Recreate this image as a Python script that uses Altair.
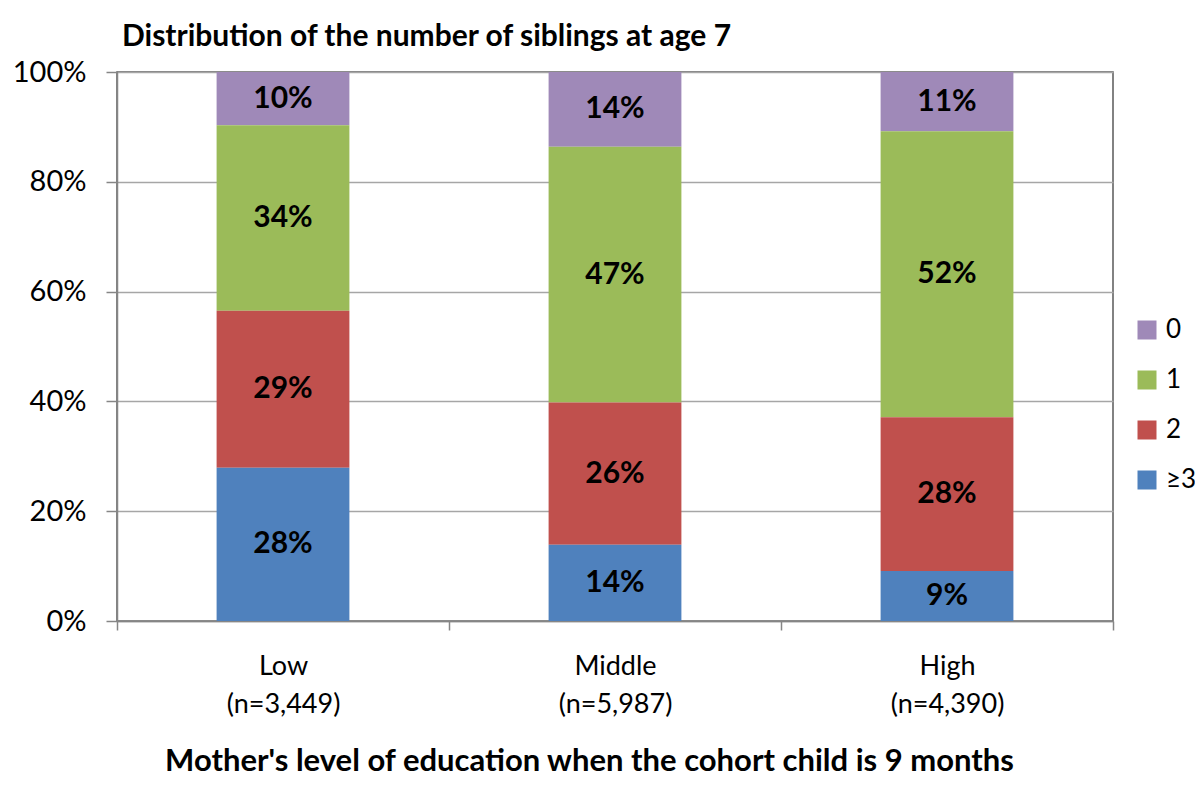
import altair as alt
import pandas as pd

categories = ["Low", "Middle", "High"]
sample_sizes = ["(n=3,449)", "(n=5,987)", "(n=4,390)"]
sibling_groups = ["0", "1", "2", "≥3"]
share_0 = [9.7, 13.6, 10.8]
share_1 = [33.8, 46.6, 52.1]
share_2 = [28.6, 25.9, 28.0]
share_3plus = [27.9, 13.9, 9.1]
colors = ["#9F89B8", "#9BBB59", "#C0504D", "#4F81BD"]
y_ticks = [0, 20, 40, 60, 80, 100]

series = [share_0, share_1, share_2, share_3plus]
rows = []
for gi, (g, vals) in enumerate(zip(sibling_groups, series)):
    for ci, c in enumerate(categories):
        rows.append({"cat": c + "|" + sample_sizes[ci], "group": g,
                     "value": vals[ci], "order": gi})
df = pd.DataFrame(rows)
cat_order = [c + "|" + n for c, n in zip(categories, sample_sizes)]

FONT = "Lato"

base = alt.Chart(df).transform_stack(
    stack="value", groupby=["cat"], as_=["y0", "y1"],
    sort=[alt.SortField("order", order="descending")]
).transform_calculate(
    mid="(datum.y0 + datum.y1) / 2",
    label="format(datum.value, '.0f') + '%'"
)

x_scale = alt.Scale(paddingInner=0, paddingOuter=0)

x_enc = alt.X(
    "cat:N", sort=cat_order, scale=x_scale,
    axis=alt.Axis(
        labelExpr="split(datum.label, '|')", labelAngle=0, tickBand="extent",
        grid=False, tickSize=9, labelPadding=23, labelFontSize=27,
        labelLineHeight=38, labelFont=FONT, labelColor="black",
        title="Mother's level of education when the cohort child is 9 months",
        titleFont=FONT, titleFontSize=31, titleFontWeight="bold", titleColor="black",
        titleX=472, titleY=149, titleAlign="center", titleBaseline="alphabetic",
        domainColor="#868686", tickColor="#868686", domainWidth=1.5, tickWidth=1.5,
    ),
)

bars = base.mark_bar(width={"band": 0.4}).encode(
    x=x_enc,
    y=alt.Y("y0:Q", scale=alt.Scale(domain=[0, 100], nice=False),
            axis=alt.Axis(values=y_ticks, labelExpr="datum.value + '%'", title=None,
                          tickSize=11, labelPadding=20, labelFontSize=29,
                          labelFont=FONT, labelColor="black", grid=True,
                          gridColor="#A6A6A6", gridWidth=1.3,
                          domainColor="#868686", tickColor="#868686",
                          domainWidth=1.5, tickWidth=1.5)),
    y2="y1:Q",
    color=alt.Color("group:N", scale=alt.Scale(domain=sibling_groups, range=colors),
                    legend=alt.Legend(title=None, orient="none", legendX=1017, legendY=245,
                                      symbolType="square", symbolSize=361,
                                      labelFontSize=26, labelFont=FONT, labelColor="black",
                                      rowPadding=24, symbolStrokeWidth=0, labelOffset=6,
                                      values=sibling_groups)),
)

texts = base.mark_text(fontWeight="bold", fontSize=30, font=FONT, color="black").encode(
    x=alt.X("cat:N", sort=cat_order, scale=x_scale),
    y=alt.Y("mid:Q"),
    text="label:N",
)

chart = alt.layer(bars, texts).properties(
    width=996, height=549,
    autosize=alt.AutoSizeParams(type="none"),
    padding={"left": 109, "top": 64, "right": 82, "bottom": 156},
    title=alt.TitleParams("Distribution of the number of siblings at age 7",
                          anchor="start", frame="group", fontSize=30,
                          fontWeight="bold", font=FONT, color="black",
                          offset=6, dx=5),
).configure_view(stroke="#595959", strokeWidth=1.5)

chart.save("out.html", embed_options={"renderer": "svg", "actions": False})
